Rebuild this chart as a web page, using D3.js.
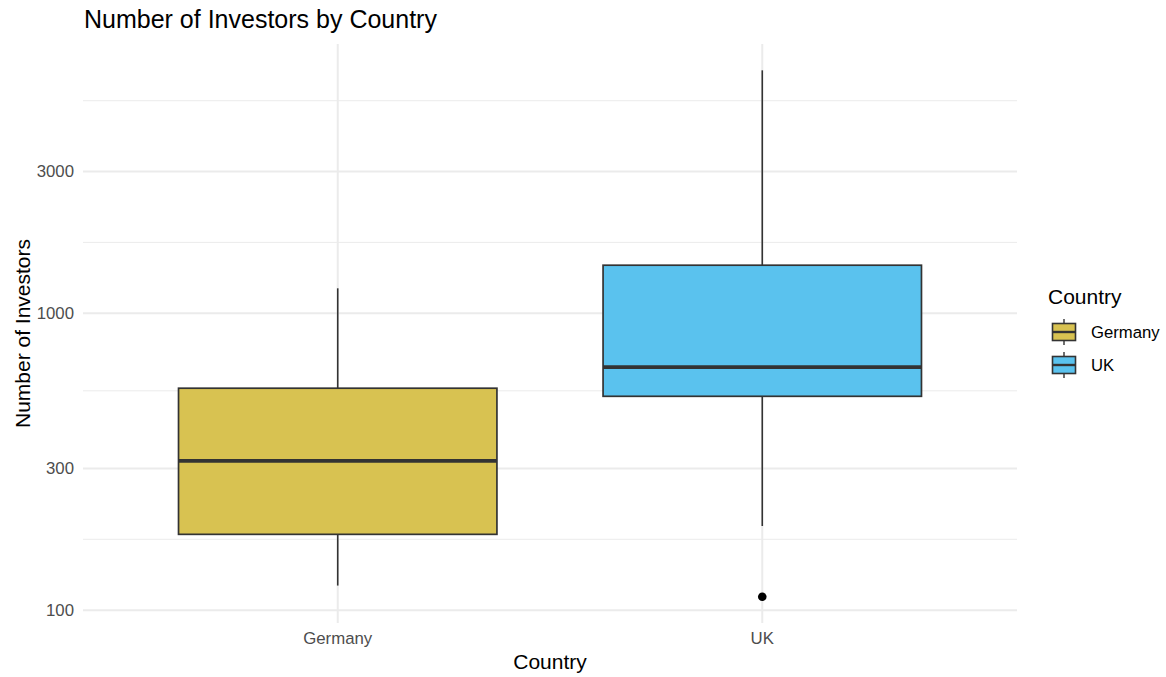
<!DOCTYPE html>
<html>
<head>
<meta charset="utf-8">
<script src="https://cdn.jsdelivr.net/npm/d3@7"></script>
<style>
  html, body { margin: 0; padding: 0; background: #fff; }
  svg { display: block; font-family: "Liberation Sans", Arial, Helvetica, sans-serif; }
</style>
</head>
<body>
<svg id="chart" width="1166" height="677"></svg>
<script>
// Box statistics per country (number of investors)
const countries = ["Germany", "UK"];
const whiskerLow  = [121, 192];
const quartile1   = [180, 525];
const medians     = [318, 658];
const quartile3   = [559, 1451];
const whiskerHigh = [1213, 6577];
const outliers    = [[], [111]];
const fills       = ["#D8C251", "#5AC2EE"];
const yTicks      = [100, 300, 1000, 3000];

const panel = { left: 83, right: 1017, top: 44, bottom: 623 };

const svg = d3.select("#chart");

// discrete x scale with a 0.6 category expansion on each side
const x = d3.scaleLinear()
  .domain([0.4, countries.length + 0.6])
  .range([panel.left, panel.right]);

// log y scale, padded 5% of the data range in log space
const allVals = whiskerLow.concat(whiskerHigh, outliers.flat());
const lo = Math.log10(d3.min(allVals)), hi = Math.log10(d3.max(allVals));
const pad = (hi - lo) * 0.05;
const y = d3.scaleLog()
  .domain([Math.pow(10, lo - pad), Math.pow(10, hi + pad)])
  .range([panel.bottom, panel.top]);

// minor grid lines sit halfway (in log space) between the major breaks
const lt = yTicks.map(Math.log10);
const ext = [lt[0] - (lt[1] - lt[0])].concat(lt, [lt[lt.length - 1] + (lt[lt.length - 1] - lt[lt.length - 2])]);
const minor = [];
for (let i = 0; i < ext.length - 1; i++) minor.push(Math.pow(10, (ext[i] + ext[i + 1]) / 2));
const [dMin, dMax] = y.domain();

const grid = svg.append("g");
grid.selectAll("line.minor")
  .data(minor.filter(v => v >= dMin && v <= dMax))
  .join("line")
  .attr("x1", panel.left).attr("x2", panel.right)
  .attr("y1", d => y(d)).attr("y2", d => y(d))
  .attr("stroke", "#EBEBEB").attr("stroke-width", 1);
grid.selectAll("line.major")
  .data(yTicks)
  .join("line")
  .attr("x1", panel.left).attr("x2", panel.right)
  .attr("y1", d => y(d)).attr("y2", d => y(d))
  .attr("stroke", "#EBEBEB").attr("stroke-width", 2);
grid.selectAll("line.vx")
  .data(countries)
  .join("line")
  .attr("x1", (d, i) => x(i + 1)).attr("x2", (d, i) => x(i + 1))
  .attr("y1", panel.top).attr("y2", panel.bottom)
  .attr("stroke", "#EBEBEB").attr("stroke-width", 2);

// y axis labels
svg.append("g").selectAll("text")
  .data(yTicks)
  .join("text")
  .attr("x", 74).attr("y", d => y(d))
  .attr("dy", "0.35em")
  .attr("text-anchor", "end")
  .attr("font-size", 16.8)
  .attr("fill", "#4D4D4D")
  .text(d => d3.format("d")(d));

// x axis labels
svg.append("g").selectAll("text")
  .data(countries)
  .join("text")
  .attr("x", (d, i) => x(i + 1)).attr("y", 644)
  .attr("text-anchor", "middle")
  .attr("font-size", 16.8)
  .attr("fill", "#4D4D4D")
  .text(d => d);

// boxplots
const boxW = (x(1) - x(0)) * 0.75;
const boxes = svg.append("g").selectAll("g")
  .data(countries.map((c, i) => ({
    c, i, lw: whiskerLow[i], q1: quartile1[i], med: medians[i],
    q3: quartile3[i], hw: whiskerHigh[i], out: outliers[i], fill: fills[i]
  })))
  .join("g");

boxes.append("line")
  .attr("x1", d => x(d.i + 1)).attr("x2", d => x(d.i + 1))
  .attr("y1", d => y(d.q3)).attr("y2", d => y(d.hw))
  .attr("stroke", "#333333").attr("stroke-width", 1.6);
boxes.append("line")
  .attr("x1", d => x(d.i + 1)).attr("x2", d => x(d.i + 1))
  .attr("y1", d => y(d.q1)).attr("y2", d => y(d.lw))
  .attr("stroke", "#333333").attr("stroke-width", 1.6);
boxes.append("rect")
  .attr("x", d => x(d.i + 1) - boxW / 2)
  .attr("width", boxW)
  .attr("y", d => y(d.q3))
  .attr("height", d => y(d.q1) - y(d.q3))
  .attr("fill", d => d.fill)
  .attr("stroke", "#333333").attr("stroke-width", 1.7);
boxes.append("line")
  .attr("x1", d => x(d.i + 1) - boxW / 2).attr("x2", d => x(d.i + 1) + boxW / 2)
  .attr("y1", d => y(d.med)).attr("y2", d => y(d.med))
  .attr("stroke", "#333333").attr("stroke-width", 3.8);
boxes.selectAll("circle")
  .data(d => d.out.map(v => ({ v, i: d.i })))
  .join("circle")
  .attr("cx", d => x(d.i + 1)).attr("cy", d => y(d.v))
  .attr("r", 4.3).attr("fill", "#000");

// titles
svg.append("text")
  .attr("x", 84).attr("y", 28)
  .attr("font-size", 25).attr("fill", "#000")
  .text("Number of Investors by Country");
svg.append("text")
  .attr("x", (panel.left + panel.right) / 2).attr("y", 669)
  .attr("text-anchor", "middle")
  .attr("font-size", 21).attr("fill", "#000")
  .text("Country");
svg.append("text")
  .attr("transform", `translate(30,${(panel.top + panel.bottom) / 2}) rotate(-90)`)
  .attr("text-anchor", "middle")
  .attr("font-size", 21).attr("fill", "#000")
  .text("Number of Investors");

// legend
const legend = svg.append("g").attr("transform", "translate(1048,0)");
legend.append("text")
  .attr("x", 0).attr("y", 304)
  .attr("font-size", 21).attr("fill", "#000")
  .text("Country");
const keys = legend.selectAll("g.key")
  .data(countries)
  .join("g")
  .attr("transform", (d, i) => `translate(0,${319 + i * 33})`);
keys.append("line")
  .attr("x1", 16).attr("x2", 16).attr("y1", 0).attr("y2", 26)
  .attr("stroke", "#333333").attr("stroke-width", 1.4);
keys.append("rect")
  .attr("x", 4.5).attr("y", 4.5).attr("width", 23).attr("height", 17)
  .attr("fill", (d, i) => fills[i])
  .attr("stroke", "#333333").attr("stroke-width", 1.6);
keys.append("line")
  .attr("x1", 4.5).attr("x2", 27.5).attr("y1", 13).attr("y2", 13)
  .attr("stroke", "#333333").attr("stroke-width", 2.4);
keys.append("text")
  .attr("x", 43).attr("y", 13).attr("dy", "0.35em")
  .attr("font-size", 16.7).attr("fill", "#000")
  .text(d => d);
</script>
</body>
</html>
